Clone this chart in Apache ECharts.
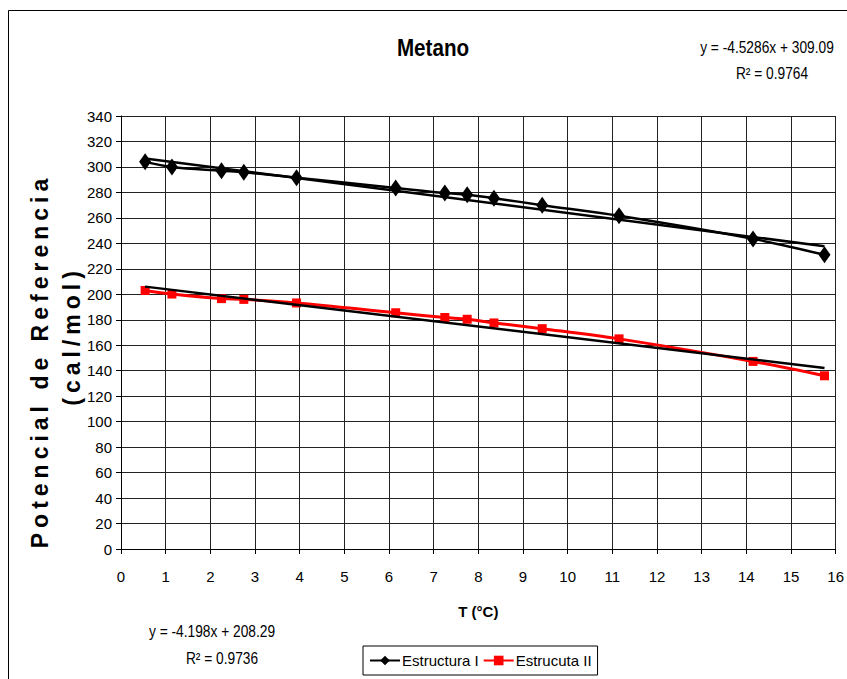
<!DOCTYPE html>
<html>
<head>
<meta charset="utf-8">
<title>Metano</title>
<script src="https://cdn.jsdelivr.net/npm/echarts@6/dist/echarts.min.js"></script>
<style>
  html, body { margin: 0; padding: 0; background: #fff; }
  #chart { width: 847px; height: 679px; }
  /* spaced-out lettering for the vertical axis title */
  #chart text[style*="23px"] { letter-spacing: 5px; }
</style>
</head>
<body>
<div id="chart"></div>
<script>
// Temperature readings (°C), shared by both structures
const temperatures = [0.54, 1.14, 2.25, 2.75, 3.93, 6.15, 7.25, 7.75, 8.35, 9.43, 11.15, 14.15, 15.75];
// Reference potential (cal/mol)
const estructuraI  = [304, 300, 297, 295.8, 291.6, 283.5, 279.5, 278.2, 275.5, 270, 261.6, 243.5, 231];
const estructucaII = [203, 200.2, 196.6, 196, 193.2, 185.5, 181.8, 180.4, 177.5, 173, 165, 147.3, 136];
const seriesNames = ['Estructura I', 'Estrucuta II'];
// Linear trend lines, as given by the fitted equations
const trendSlopes = [-4.5286, -4.198];
const trendIntercepts = [309.09, 208.29];
const trendR2 = ['0.9764', '0.9736'];
// Axis ticks
const xTicks = { min: 0, max: 16, step: 1 };
const yTicks = { min: 0, max: 340, step: 20 };

const sans = "'Liberation Sans', Arial, sans-serif";
const condensed = 0.86; // horizontal squeeze for the annotation texts

function pairs(xs, ys) { return xs.map((x, i) => [x, ys[i]]); }
function trend(k) {
  const x0 = temperatures[0], x1 = temperatures[temperatures.length - 1];
  return [[x0, trendSlopes[k] * x0 + trendIntercepts[k]], [x1, trendSlopes[k] * x1 + trendIntercepts[k]]];
}
function equation(k) {
  return 'y = ' + trendSlopes[k] + 'x + ' + trendIntercepts[k];
}
function note(text, x, y, font) {
  return { type: 'text', x: x, y: y, scaleX: condensed,
    style: { text: text, font: font, fill: '#000', textAlign: 'center', textVerticalAlign: 'middle' } };
}

const chart = echarts.init(document.getElementById('chart'), null, { renderer: 'svg' });

chart.setOption({
  backgroundColor: '#fff',
  animation: false,
  grid: { left: 121, right: 9, top: 116, bottom: 130, containLabel: false },
  xAxis: {
    type: 'value', min: xTicks.min, max: xTicks.max, interval: xTicks.step,
    name: 'T (°C)', nameLocation: 'middle', nameGap: 55,
    nameTextStyle: { fontFamily: sans, fontWeight: 'bold', fontSize: 15, color: '#000' },
    axisLine: { show: true, onZero: false, lineStyle: { color: '#000', width: 1 } },
    axisTick: { show: true, length: 5, lineStyle: { color: '#000' } },
    axisLabel: { margin: 20, fontFamily: sans, fontSize: 15, color: '#000' },
    splitLine: { show: true, lineStyle: { color: '#222', width: 1 } }
  },
  yAxis: {
    type: 'value', min: yTicks.min, max: yTicks.max, interval: yTicks.step,
    axisLine: { show: true, onZero: false, lineStyle: { color: '#000', width: 1 } },
    axisTick: { show: true, length: 5, lineStyle: { color: '#000' } },
    axisLabel: { margin: 9, fontFamily: sans, fontSize: 15, color: '#000' },
    splitLine: { show: true, lineStyle: { color: '#222', width: 1 } }
  },
  legend: {
    data: seriesNames,
    left: 363, top: 646,
    orient: 'horizontal',
    itemWidth: 30, itemHeight: 12, itemGap: 4,
    padding: [7, 6, 7, 6],
    borderColor: '#000', borderWidth: 1, borderRadius: 0,
    textStyle: { fontFamily: sans, fontSize: 15, color: '#000', padding: [0, 0, 0, -3] }
  },
  graphic: [
    { type: 'rect', shape: { x: 8.5, y: 10.5, width: 850, height: 680 },
      style: { fill: 'none', stroke: '#000', lineWidth: 1 }, silent: true },
    note('Metano', 433, 48, 'bold 24px ' + sans),
    { type: 'text', x: 40, y: 361, rotation: Math.PI / 2,
      style: { text: 'Potencial de Referencia', font: 'bold 23px ' + sans, fill: '#000',
               textAlign: 'center', textVerticalAlign: 'middle' } },
    { type: 'text', x: 72, y: 336, rotation: Math.PI / 2,
      style: { text: '(cal/mol)', font: 'bold 23px ' + sans, fill: '#000',
               textAlign: 'center', textVerticalAlign: 'middle' } },
    note(equation(0), 767, 47, '16px ' + sans),
    note('R² = ' + trendR2[0], 772, 73, '16px ' + sans),
    note(equation(1), 212, 631, '16px ' + sans),
    note('R² = ' + trendR2[1], 222, 658, '16px ' + sans)
  ],
  series: [
    {
      name: seriesNames[0], type: 'line', smooth: 0.35,
      data: pairs(temperatures, estructuraI),
      symbol: 'diamond', symbolSize: [12, 17],
      lineStyle: { color: '#000', width: 2.5 },
      itemStyle: { color: '#000' }, z: 3
    },
    {
      name: seriesNames[1], type: 'line', smooth: 0.35,
      data: pairs(temperatures, estructucaII),
      symbol: 'rect', symbolSize: 9,
      lineStyle: { color: '#ff0000', width: 3 },
      itemStyle: { color: '#ff0000' }, z: 3
    },
    {
      name: 'trend I', type: 'line', data: trend(0), symbol: 'none',
      lineStyle: { color: '#000', width: 2.5 }, z: 4, silent: true
    },
    {
      name: 'trend II', type: 'line', data: trend(1), symbol: 'none',
      lineStyle: { color: '#000', width: 2.5 }, z: 4, silent: true
    }
  ]
});
</script>
</body>
</html>
